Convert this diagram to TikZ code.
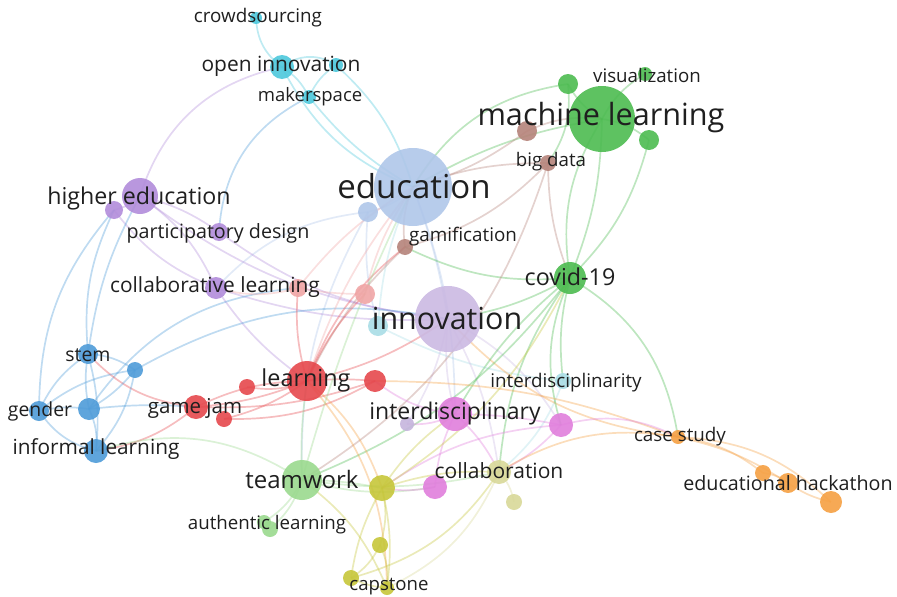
\documentclass[tikz,border=0pt]{standalone}
\usepackage{fontspec}
\setmainfont{Open Sans}
\usetikzlibrary{backgrounds}
\definecolor{ccy}{HTML}{4DC8DC}
\definecolor{clcy}{HTML}{A9DDE6}
\definecolor{cedu}{HTML}{AFC6E9}
\definecolor{cpur}{HTML}{B18CDA}
\definecolor{cinn}{HTML}{CBB9E2}
\definecolor{cgrn}{HTML}{4CBB50}
\definecolor{cbrn}{HTML}{B5837A}
\definecolor{cred}{HTML}{E5484D}
\definecolor{clred}{HTML}{F0A5A5}
\definecolor{cblu}{HTML}{4E9BD8}
\definecolor{clgr}{HTML}{9AD98E}
\definecolor{cpnk}{HTML}{E07EDC}
\definecolor{cyel}{HTML}{C6C63A}
\definecolor{cly}{HTML}{D8D898}
\definecolor{corg}{HTML}{F5A043}
\definecolor{clpu}{HTML}{C5B5DD}
\newcommand\ed[4][bend left=15]{\draw[e=#2,#1] (#3.center) to (#4.center);}
\begin{document}
\begin{tikzpicture}[x=1pt,y=-1pt,
  bub/.style 2 args={circle,fill=#1,minimum size=#2*2pt,inner sep=0pt,opacity=.9},
  lab/.style={text=black!88,inner sep=0pt,font=\fontsize{#1}{#1}\selectfont},
  e/.style={draw=#1,line width=1.7pt,opacity=.36}]
\useasboundingbox (0,0) rectangle (897,597);
% circles
\node[bub={ccy}{6}] (crowd) at (256,18) {};
\node[bub={ccy}{12}] (oinn) at (282,67) {};
\node[bub={ccy}{7}] (cy2) at (336,65) {};
\node[bub={ccy}{7}] (maker) at (309,97) {};
\node[bub={clcy}{10}] (cy3) at (378,326) {};
\node[bub={cedu}{39}] (edu) at (413,187) {};
\node[bub={cedu}{10}] (edu2) at (368,212) {};
\node[bub={cpur}{18}] (hed) at (140,196) {};
\node[bub={cpur}{9}] (hed2) at (114,210) {};
\node[bub={cpur}{9}] (pdes) at (219,232) {};
\node[bub={cpur}{11}] (coll) at (216,288) {};
\node[bub={cinn}{33}] (inn) at (448,319) {};
\node[bub={clpu}{7}] (pu2) at (407,424) {};
\node[bub={cgrn}{33}] (ml) at (602,119) {};
\node[bub={cgrn}{10}] (g1) at (568,84) {};
\node[bub={cgrn}{7}] (vis) at (645,74) {};
\node[bub={cgrn}{10}] (g3) at (649,140) {};
\node[bub={cgrn}{16}] (cov) at (570,278) {};
\node[bub={cbrn}{8}] (bdata) at (548,163) {};
\node[bub={cbrn}{10}] (br2) at (527,131) {};
\node[bub={cbrn}{8}] (gam) at (405,247) {};
\node[bub={cred}{20}] (lrn) at (307,381) {};
\node[bub={cred}{11}] (r3) at (375,381) {};
\node[bub={cred}{8}] (r2) at (247,387) {};
\node[bub={cred}{12}] (gj) at (196,407) {};
\node[bub={cred}{8}] (gj2) at (224,419) {};
\node[bub={clred}{9}] (lr1) at (298,288) {};
\node[bub={clred}{10}] (lr2) at (365,294) {};
\node[bub={cblu}{10}] (stem) at (88,354) {};
\node[bub={cblu}{8}] (b1) at (135,370) {};
\node[bub={cblu}{10}] (gen) at (39,411) {};
\node[bub={cblu}{11}] (b2) at (89,409) {};
\node[bub={cblu}{12}] (inf) at (96,451) {};
\node[bub={clgr}{20}] (team) at (302,480) {};
\node[bub={clgr}{7}] (au1) at (264,522) {};
\node[bub={clgr}{8}] (au2) at (270,529) {};
\node[bub={cpnk}{17}] (idis) at (455,414) {};
\node[bub={cpnk}{12}] (p2) at (561,425) {};
\node[bub={cpnk}{12}] (p3) at (435,487) {};
\node[bub={clcy}{8}] (idty) at (563,381) {};
\node[bub={cyel}{13}] (y1) at (382,488) {};
\node[bub={cly}{12}] (colb) at (499,472) {};
\node[bub={cly}{8}] (y2) at (514,502) {};
\node[bub={cyel}{8}] (y4) at (380,545) {};
\node[bub={cyel}{8}] (y5) at (351,578) {};
\node[bub={cyel}{7}] (cap) at (387,588) {};
\node[bub={corg}{7}] (case) at (678,437) {};
\node[bub={corg}{8}] (o1) at (763,473) {};
\node[bub={corg}{10}] (o2) at (788,483) {};
\node[bub={corg}{11}] (o3) at (831,502) {};
% edges
\begin{scope}[on background layer]
% cyan
\ed[bend right=25]{ccy}{crowd}{oinn}
\ed{ccy}{oinn}{maker}
\ed[bend left=35]{ccy}{oinn}{cy2}
\ed{ccy}{maker}{cy2}
\ed[bend right=20]{ccy}{oinn}{edu}
\ed[bend left=15]{ccy}{cy2}{edu}
\ed[bend right=10]{ccy}{maker}{edu}
\ed[bend right=30]{cpur}{oinn}{hed}
\ed[bend right=30]{cblu}{maker}{pdes}
\ed[bend right=10]{clcy}{cy3}{idty}
\ed[bend left=10]{clcy}{cy3}{edu}
\ed[bend left=15]{clcy}{idty}{colb}
% edu
\ed[bend left=5]{cedu}{edu}{inn}
\ed{cedu}{edu}{edu2}
\ed[bend right=10]{cedu}{edu2}{cy3}
\ed[bend left=10]{cedu}{edu}{idis}
\ed[bend right=15]{cedu}{edu2}{team}
\ed[bend right=20]{cedu}{edu2}{coll}
% purple
\ed{cpur}{hed}{hed2}
\ed[bend left=10]{cpur}{hed}{pdes}
\ed[bend left=15]{cpur}{hed}{coll}
\ed[bend right=15]{cpur}{hed2}{coll}
\ed[bend right=15]{cpur}{hed}{inn}
\ed[bend right=10]{cpur}{coll}{inn}
\ed[bend right=15]{cpur}{pdes}{inn}
\ed[bend right=15]{cblu}{hed2}{stem}
\ed[bend right=10]{cblu}{hed}{stem}
\ed[bend right=10]{cpur}{coll}{lrn}
\ed[bend right=10]{cinn}{inn}{idis}
\ed[bend left=10]{cinn}{inn}{colb}
\ed[bend left=10]{cinn}{inn}{pu2}
\ed[bend right=20]{corg}{inn}{case}
\ed[bend left=15]{cinn}{inn}{p2}
\ed[bend left=20]{cblu}{b1}{inn}
\ed[bend left=25]{cblu}{b2}{lr1}
% green
\ed{cgrn}{ml}{g1}
\ed{cgrn}{ml}{vis}
\ed{cgrn}{ml}{g3}
\ed[bend right=20]{cgrn}{ml}{cov}
\ed[bend left=10]{cgrn}{ml}{cov}
\ed[bend left=15]{cgrn}{g3}{cov}
\ed[bend right=25]{cgrn}{g1}{edu}
\ed[bend right=10]{cgrn}{ml}{edu}
\ed[bend left=15]{cgrn}{cov}{gam}
\ed[bend left=10]{cgrn}{cov}{inn}
\ed[bend left=15]{cgrn}{cov}{team}
\ed[bend right=15]{cgrn}{cov}{colb}
\ed[bend right=10]{cgrn}{cov}{idis}
\ed[bend left=25]{cgrn}{cov}{case}
\ed[bend right=10]{cgrn}{cov}{idty}
\ed[bend right=20]{cgrn}{cov}{p2}
\ed[bend left=20]{cgrn}{g1}{bdata}
% brown
\ed[bend right=10]{cbrn}{bdata}{edu}
\ed[bend left=10]{cbrn}{br2}{edu}
\ed[bend right=10]{cbrn}{bdata}{cov}
\ed{cbrn}{br2}{ml}
\ed[bend left=15]{cbrn}{bdata}{gam}
\ed[bend right=10]{cbrn}{gam}{lrn}
\ed{cbrn}{gam}{edu}
\ed[bend left=20]{cbrn}{bdata}{team}
% red
\ed[bend left=8]{cred}{lrn}{gj}
\ed[bend right=12]{cred}{lrn}{gj}
\ed{cred}{lrn}{r2}
\ed[bend left=10]{cred}{lrn}{gj2}
\ed[bend left=5]{cred}{lrn}{r3}
\ed[bend left=15]{cred}{r3}{gj2}
\ed[bend left=10]{cred}{r3}{gj}
\ed[bend left=10]{corg}{r3}{case}
\ed[bend left=10]{clred}{lrn}{edu}
\ed[bend left=15]{cred}{lrn}{gam}
\ed[bend left=10]{cred}{lrn}{lr1}
\ed[bend left=10]{cred}{lrn}{lr2}
\ed[bend right=5]{clgr}{lrn}{team}
\ed[bend left=20]{corg}{lrn}{cap}
\ed[bend left=15]{corg}{lrn}{y1}
\ed[bend right=10]{cred}{lrn}{inn}
\ed[bend right=15]{cpnk}{r3}{idis}
\ed[bend left=20]{cred}{gj}{stem}
\ed[bend left=15]{cred}{gj}{inf}
\ed[bend left=10]{clred}{lr1}{edu}
\ed[bend left=10]{clred}{lr2}{edu}
\ed{clred}{lr1}{coll}
\ed[bend right=5]{clred}{lr1}{lr2}
% blue
\ed[bend right=15]{cblu}{stem}{gen}
\ed[bend right=10]{cblu}{stem}{b2}
\ed[bend left=10]{cblu}{stem}{inf}
\ed{cblu}{stem}{b1}
\ed[bend left=10]{cblu}{gen}{b2}
\ed[bend right=20]{cblu}{gen}{inf}
\ed[bend right=15]{cblu}{b1}{gen}
\ed[bend left=15]{cblu}{b1}{inf}
\ed{cblu}{b2}{inf}
\ed[bend right=10]{cblu}{b2}{b1}
\ed[bend left=5]{cblu}{b2}{gj}
\ed[bend left=20]{cblu}{gen}{hed2}
% light green
\ed{clgr}{team}{au1}
\ed{clgr}{team}{au2}
\ed[bend right=25]{clgr}{team}{inf}
\ed[bend left=5]{clgr}{team}{edu}
\ed[bend left=5]{clgr}{team}{y1}
\ed[bend right=10]{clgr}{team}{colb}
\ed[bend right=12]{clgr}{team}{p3}
\ed[bend left=15]{cyel}{team}{cap}
% pink
\ed[bend left=5]{cpnk}{idis}{p2}
\ed[bend right=10]{cpnk}{idis}{p3}
\ed[bend left=20]{cpnk}{p2}{case}
\ed[bend left=10]{cpnk}{p2}{colb}
\ed[bend left=10]{cpnk}{idis}{colb}
\ed{cpnk}{idis}{pu2}
\ed[bend left=10]{cpnk}{p3}{y1}
\ed[bend right=15]{cpnk}{p2}{y1}
% yellow
\ed[bend left=10]{cyel}{y1}{colb}
\ed[bend left=10]{cyel}{y1}{cap}
\ed{cyel}{y1}{y4}
\ed[bend right=10]{cyel}{y1}{y5}
\ed{cyel}{y4}{cap}
\ed[bend right=10]{cyel}{y5}{cap}
\ed{cyel}{y4}{y5}
\ed{cly}{colb}{y2}
\ed[bend left=20]{cly}{colb}{cap}
\ed[bend right=20]{cyel}{y5}{colb}
\ed[bend right=15]{cyel}{y1}{cov}
\ed[bend left=10]{cyel}{y1}{idis}
\ed[bend left=20]{corg}{colb}{case}
% orange
\ed[bend left=15]{corg}{case}{o1}
\ed[bend left=10]{corg}{case}{o2}
\ed[bend left=20]{corg}{case}{o3}
\ed{corg}{o1}{o2}
\ed[bend right=10]{corg}{o2}{o3}
\end{scope}
% labels
\node[lab=18.8] (l-crowd) at (258,18) {crowdsourcing};
\node[lab=20.9] (l-oinn) at (281,66) {open innovation};
\node[lab=18.5] (l-maker) at (310,97) {makerspace};
\node[lab=33] (l-edu) at (414,186) {education};
\node[lab=23.2] (l-hed) at (139,198) {higher education};
\node[lab=19.7] (l-pdes) at (218,233) {participatory design};
\node[lab=20.9] (l-coll) at (215,287) {collaborative learning};
\node[lab=30.6] (l-ml) at (601,118) {machine learning};
\node[lab=18.7] (l-vis) at (647,75) {visualization};
\node[lab=18.7] (l-bdata) at (551,162) {big data};
\node[lab=18.8] (l-gam) at (463,237) {gamification};
\node[lab=23.3] (l-cov) at (570,277) {covid-19};
\node[lab=30.4] (l-inn) at (447,318) {innovation};
\node[lab=23.4] (l-lrn) at (306,380) {learning};
\node[lab=18.8] (l-idty) at (566,383) {interdisciplinarity};
\node[lab=20.5] (l-gj) at (195,408) {game jam};
\node[lab=23] (l-idis) at (455,414) {interdisciplinary};
\node[lab=19.4] (l-stem) at (88,355) {stem};
\node[lab=19.4] (l-gen) at (40,411) {gender};
\node[lab=20.8] (l-inf) at (96,449) {informal learning};
\node[lab=18.8] (l-case) at (680,437) {case study};
\node[lab=24] (l-team) at (302,479) {teamwork};
\node[lab=21] (l-colb) at (499,471) {collaboration};
\node[lab=19.7] (l-o2) at (788,483) {educational hackathon};
\node[lab=18.7] (l-au) at (267,525) {authentic learning};
\node[lab=18.6] (l-cap) at (389,587) {capstone};
\end{tikzpicture}
\end{document}
